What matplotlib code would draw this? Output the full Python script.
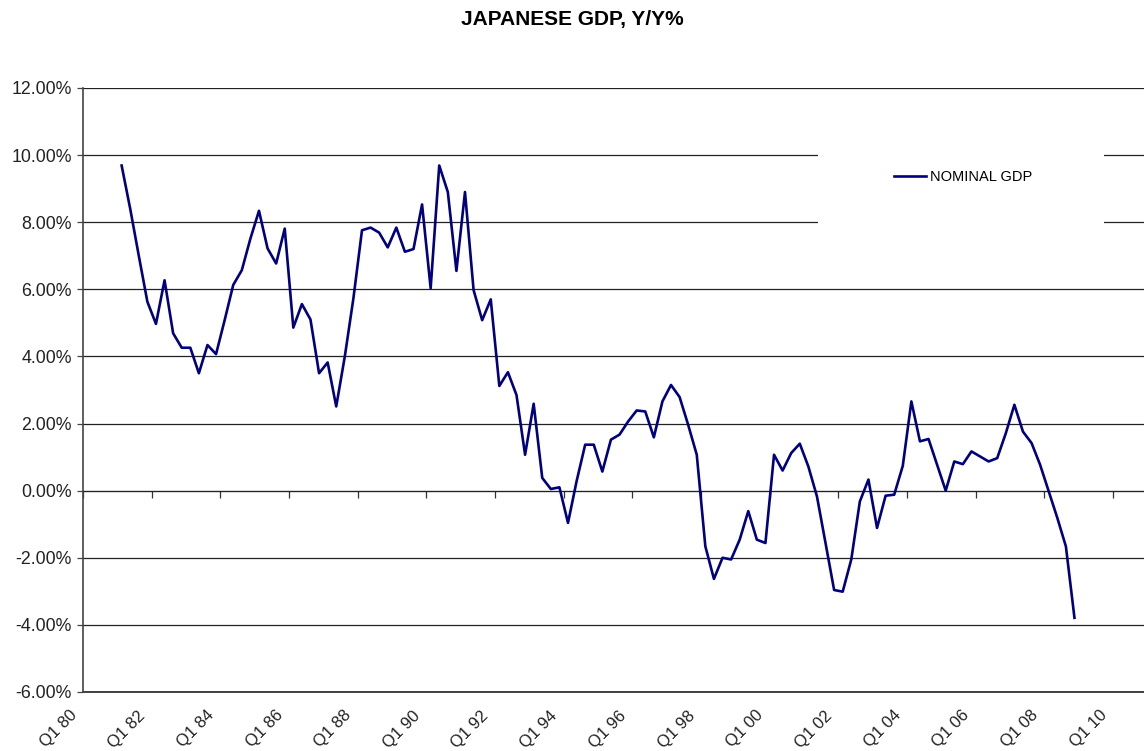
import matplotlib
matplotlib.use("Agg")
import matplotlib.pyplot as plt
from matplotlib.patches import Rectangle
from matplotlib.transforms import ScaledTranslation

plt.rcParams['font.family'] = ['Liberation Sans', 'DejaVu Sans']

# quarters counted from Q1 80 (index 0); data runs Q1 81 .. Q4 08
first_quarter = 4
nominal_gdp = [
    9.69, 8.40, 7.00, 5.63, 4.97, 6.27, 4.69, 4.26,   # 81-82
    4.26, 3.50, 4.34, 4.07, 5.08, 6.13, 6.57, 7.51,   # 83-84
    8.34, 7.22, 6.77, 7.81, 4.86, 5.56, 5.10, 3.50,   # 85-86
    3.82, 2.51, 4.00, 5.73, 7.76, 7.84, 7.69, 7.25,   # 87-88
    7.84, 7.12, 7.20, 8.53, 6.03, 9.69, 8.90, 6.55,   # 89-90
    8.90, 5.98, 5.08, 5.70, 3.12, 3.53, 2.85, 1.07,   # 91-92
    2.59, 0.38, 0.05, 0.10, -0.96, 0.28, 1.37, 1.37,  # 93-94
    0.57, 1.52, 1.67, 2.06, 2.39, 2.36, 1.59, 2.66,   # 95-96
    3.15, 2.79, 1.96, 1.07, -1.66, -2.63, -2.00, -2.05,  # 97-98
    -1.46, -0.61, -1.46, -1.56, 1.07, 0.60, 1.12, 1.40,  # 99-00
    0.72, -0.17, -1.56, -2.96, -3.01, -2.05, -0.32, 0.33,  # 01-02
    -1.11, -0.15, -0.12, 0.74, 2.66, 1.47, 1.54, 0.77,  # 03-04
    0.00, 0.87, 0.79, 1.17, 1.02, 0.87, 0.97, 1.71,   # 05-06
    2.56, 1.76, 1.42, 0.77, -0.02, -0.81, -1.66, -3.79,  # 07-08
]
tick_labels = ["Q1 80", "Q1 82", "Q1 84", "Q1 86", "Q1 88", "Q1 90", "Q1 92", "Q1 94",
               "Q1 96", "Q1 98", "Q1 00", "Q1 02", "Q1 04", "Q1 06", "Q1 08", "Q1 10"]
y_ticks = [-6, -4, -2, 0, 2, 4, 6, 8, 10, 12]

fig = plt.figure(figsize=(11.44, 7.51), dpi=100)
ax = fig.add_axes([83 / 1144, 1 - 692 / 751, 1061 / 1144, (692 - 88) / 751])

x = [first_quarter + k + 0.5 for k in range(len(nominal_gdp))]
ax.plot(x, nominal_gdp, color='#000080', lw=1.9, label='NOMINAL GDP', zorder=3)

ax.set_xlim(0, 123.6)
ax.set_ylim(-6, 12)
ax.set_yticks(y_ticks)
ax.set_yticklabels(["%.2f%%" % v for v in y_ticks], fontsize=12.8, color='#222222')
ax.yaxis.grid(True, color='#222222', lw=0.9)
ax.axhline(-6, color='#222222', lw=1.2, clip_on=False)
ax.set_axisbelow(True)
ax.tick_params(axis='y', length=4, width=0.9, color='#444444', pad=4)

# category axis crosses at zero with tick marks, labels at the bottom
tick_pos = [8 * k for k in range(len(tick_labels))]
ax.spines['bottom'].set_position(('data', 0))
ax.spines['bottom'].set_color('#222222')
ax.set_xticks(tick_pos)
ax.tick_params(axis='x', direction='out', length=5, width=0.9, color='#333333', labelbottom=False)
for s in ['top', 'right']:
    ax.spines[s].set_visible(False)
ax.spines['left'].set_color('#444444')
ax.spines['left'].set_linewidth(1.2)

sec = ax.secondary_xaxis(0.0)
sec.set_xticks(tick_pos)
sec.set_xticklabels(tick_labels, rotation=45, ha='right', rotation_mode='anchor',
                    fontsize=12, color='#222222')
sec.tick_params(length=0, pad=10)
sec.spines['bottom'].set_visible(False)
shift = ScaledTranslation(-14 / 100, -2 / 100, fig.dpi_scale_trans)
for lbl in sec.get_xticklabels():
    lbl.set_transform(lbl.get_transform() + shift)

# white legend area covering the gridlines
ax.add_patch(Rectangle((818 / 1144, 1 - 232 / 751), (1104 - 818) / 1144, 100 / 751,
                       transform=fig.transFigure, facecolor='white', edgecolor='none',
                       zorder=2))
leg = ax.legend(loc='center', bbox_to_anchor=(963 / 1144, 1 - 177 / 751),
                bbox_transform=fig.transFigure, frameon=False, fontsize=10.5,
                handlelength=2.2, handletextpad=0.3)
leg.set_zorder(5)

fig.suptitle('JAPANESE GDP, Y/Y%', fontsize=15, fontweight='bold', y=1 - 20 / 751, va='center')

fig.savefig('out.png', dpi=100)
